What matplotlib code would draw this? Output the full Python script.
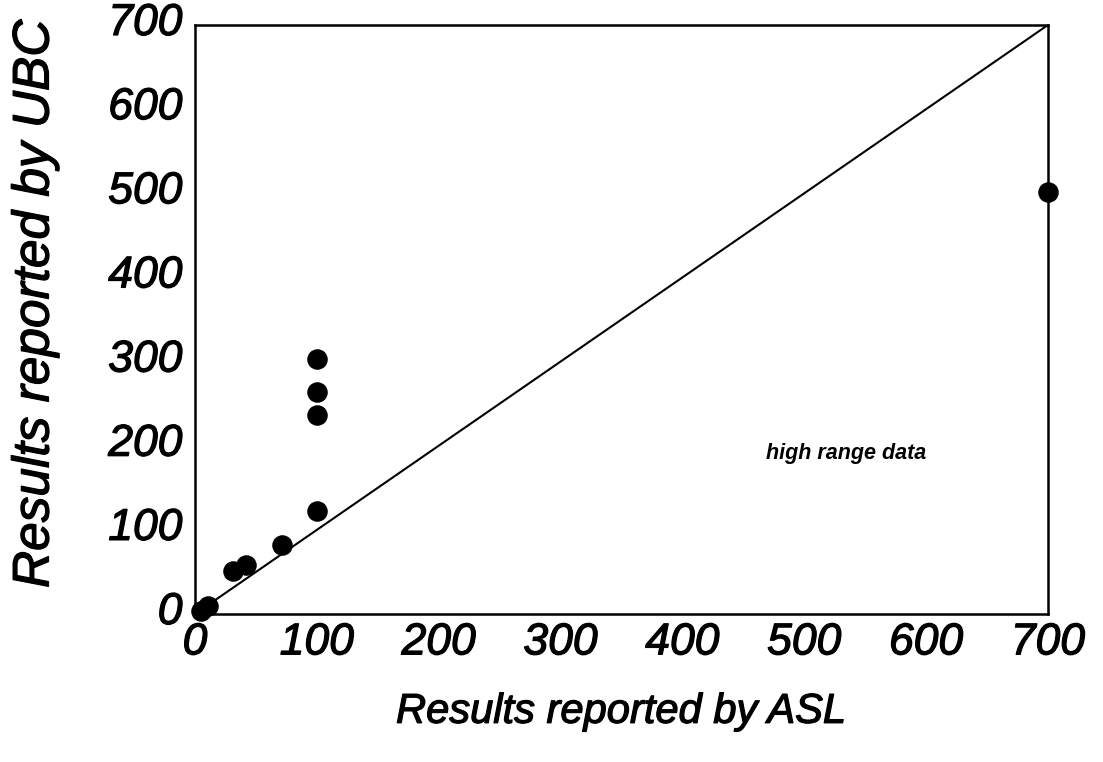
import matplotlib
matplotlib.use("Agg")
import matplotlib.pyplot as plt
import matplotlib.patheffects as pe
from matplotlib.transforms import ScaledTranslation

# Paired measurements: ASL result vs UBC result
asl = [5, 11, 31, 42, 71, 100, 100, 100, 100, 700]
ubc = [3, 9, 51, 58, 82, 122, 236, 264, 303, 502]

ticks = [0, 100, 200, 300, 400, 500, 600, 700]

plt.rcParams['font.family'] = ['Liberation Sans', 'DejaVu Sans']

fig = plt.figure(figsize=(11.03, 7.62), dpi=100)
ax = fig.add_axes([0.1768, 0.1942, 0.9501 - 0.1768, 0.9672 - 0.1942])

heavy = [pe.withStroke(linewidth=0.9, foreground='black')]

# 1:1 reference line
ax.plot([0, 700], [0, 700], color='black', lw=1.5, zorder=2)
ax.scatter(asl, ubc, s=190, color='black', zorder=3, clip_on=False)

ax.set_xlim(0, 700)
ax.set_ylim(0, 700)
ax.set_xticks(ticks)
ax.set_yticks(ticks)
ax.set_xticklabels([str(t) for t in ticks], fontsize=32, style='italic')
ax.set_yticklabels([str(t) for t in ticks], fontsize=32, style='italic')
ax.tick_params(length=0)
ax.tick_params(axis='x', pad=6)
ax.tick_params(axis='y', pad=9)

# y tick labels sit slightly above their gridline values
shift = ScaledTranslation(0, 6 / 100, fig.dpi_scale_trans)
for lbl in ax.get_yticklabels():
    lbl.set_transform(lbl.get_transform() + shift)
for lbl in ax.get_xticklabels() + ax.get_yticklabels():
    lbl.set_path_effects(heavy)

for s in ax.spines.values():
    s.set_linewidth(1.8)

ax.set_xlabel('Results reported by ASL', fontsize=30, style='italic')
ax.set_ylabel('Results reported by UBC', fontsize=37, style='italic')
ax.xaxis.label.set_va('center')
ax.yaxis.label.set_va('center')
ax.xaxis.set_label_coords(0.4994, -0.166)
ax.yaxis.set_label_coords(-0.1876, 0.527)
ax.xaxis.label.set_path_effects(heavy)
ax.yaxis.label.set_path_effects(heavy)

ax.text(534, 191, 'high range data', fontsize=15.5, style='italic',
        fontweight='bold', ha='center', va='center')

fig.savefig('out.png', dpi=100)
